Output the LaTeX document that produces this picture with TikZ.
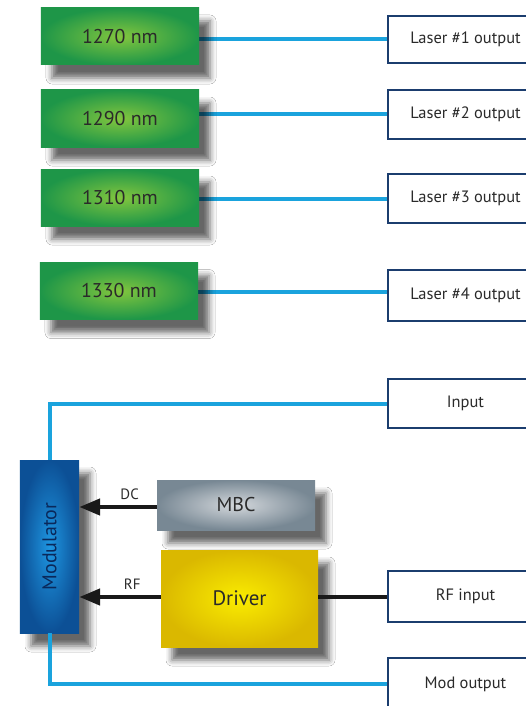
\documentclass[tikz,border=0pt]{standalone}
\usepackage{fontspec}
\setmainfont{PT Sans}
\usetikzlibrary{shadows.blur,arrows.meta}
\definecolor{lineblue}{HTML}{1AA3DD}
\definecolor{navy}{HTML}{1B3D6E}
\definecolor{txt}{HTML}{2A2A2A}
\tikzset{
  shad/.style={blur shadow={shadow xshift=11bp, shadow yshift=-13bp, shadow blur radius=6bp, shadow opacity=60}},
  greenbox/.style={shad, rectangle, inner sep=0pt, minimum width=158bp, minimum height=57bp,
    shading=radial, inner color={rgb,255:red,130;green,198;blue,62}, outer color={rgb,255:red,30;green,150;blue,72},
    text=txt, font=\fontsize{20}{24}\selectfont},
  outbox/.style={rectangle, draw=navy, line width=2.2bp, fill=white, inner sep=0pt,
    minimum width=155bp, text=txt, font=\fontsize{16.5}{19}\selectfont},
  blueline/.style={draw=lineblue, line width=4bp},
  blackline/.style={draw=black!90, line width=4bp},
  bigarrow/.style={draw=black!90, line width=4.5bp, -{Triangle[length=21bp,width=16bp]}},
  smalllab/.style={text=txt, font=\fontsize{15}{18}\selectfont, inner sep=1bp}
}
\begin{document}
\begin{tikzpicture}[x=1bp,y=-1bp]
\clip (0,0) rectangle (526,706);
\fill[white] (0,0) rectangle (526,706);
% right-hand boxes
\node[outbox, minimum height=47bp] (l1) at (465.5,39.5) {Laser \#1 output};
\node[outbox, minimum height=49bp] (l2) at (465.5,114.5) {Laser \#2 output};
\node[outbox, minimum height=49bp] (l3) at (465.5,198.5) {Laser \#3 output};
\node[outbox, minimum height=51bp] (l4) at (465.5,295.5) {Laser \#4 output};
\node[outbox, minimum height=49bp] (in) at (465.5,403.5) {Input};
\node[outbox, minimum height=51bp] (rf) at (465.5,596.5) {RF input};
\node[outbox, minimum height=52bp] (mo) at (465.5,684) {Mod output};
% coordinates for the left ends of lines
\coordinate (g1e) at (199,39.5);
\coordinate (g2e) at (199,114.5);
\coordinate (g3e) at (199,198.5);
\coordinate (g4e) at (198,292);
% blue connectors (drawn beneath the boxes so shadows overlap)
\draw[blueline] (l1.west) -- (g1e);
\draw[blueline] (l2.west) -- (g2e);
\draw[blueline] (l3.west) -- (g3e);
\draw[blueline] (l4.west |- g4e) -- (g4e);
% modulator etc.
\node[shad, rectangle, inner sep=0pt, minimum width=59bp, minimum height=173bp,
  shading=radial, inner color={rgb,255:red,30;green,150;blue,225}, outer color={rgb,255:red,12;green,80;blue,150}]
  (mod) at (49.5,546.5) {};
\draw[blueline] (in.west) -- (in.west -| mod.north) -- (mod.north);
\draw[blueline] (mod.south) -- (mod.south |- mo.west) -- (mo.west);
\node[rotate=90, text={rgb,255:red,10;green,40;blue,90}, font=\fontsize{20}{24}\selectfont] (modtxt) at (mod.center) {Modulator};
% green laser boxes
\node[greenbox] (g1) at (120,36.5) {1270 nm};
\node[greenbox] (g2) at (120,118.5) {1290 nm};
\node[greenbox] (g3) at (120,197.5) {1310 nm};
\node[greenbox] (g4) at (119,291) {1330 nm};
% MBC and driver
\node[shad, rectangle, inner sep=0pt, minimum width=158bp, minimum height=50bp,
  shading=radial, inner color={rgb,255:red,212;green,216;blue,220}, outer color={rgb,255:red,120;green,136;blue,148},
  text=txt, font=\fontsize{20}{24}\selectfont] (mbc) at (236,505) {MBC};
\node[shad, rectangle, inner sep=0pt, minimum width=157bp, minimum height=97bp,
  shading=radial, inner color={rgb,255:red,250;green,236;blue,0}, outer color={rgb,255:red,218;green,184;blue,0},
  text=txt, font=\fontsize{21}{25}\selectfont] (drv) at (239.5,598.5) {Driver};
\draw[blackline] (rf.west) -- (rf.west -| drv.east);
\draw[bigarrow] (mbc.west |- 0,507) -- (mod.east |- 0,507) node[smalllab, pos=0.35, above=4bp] (dc) {DC};
\draw[bigarrow] (drv.west |- 0,597) -- (mod.east |- 0,597) node[smalllab, pos=0.35, above=4bp] (rfl) {RF};
\end{tikzpicture}
\end{document}
